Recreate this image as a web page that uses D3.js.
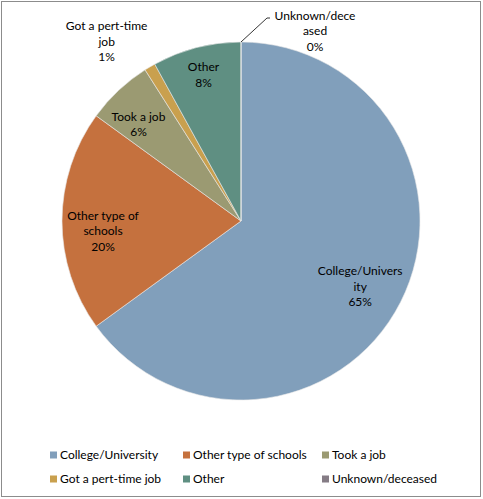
<!DOCTYPE html>
<html>
<head>
<meta charset="utf-8">
<script src="https://cdn.jsdelivr.net/npm/d3@7"></script>
<style>
  body { margin: 0; background: #fff; }
  text { font-family: Lato, "Liberation Sans", sans-serif; font-size: 12px; fill: #000; }
</style>
</head>
<body>
<div class="chart"></div>
<script>
// data
var categories = ["College/University", "Other type of schools", "Took a job", "Got a pert-time job", "Other", "Unknown/deceased"];
var shares = [65, 20, 6, 1, 8, 0];
var colors = ["#819FBB", "#C5713E", "#9B9A72", "#C9A04E", "#5F8F82", "#857C85"];
// labels as they wrap on the slices
var labelLines = [
  ["College/Univers", "ity", "65%"],
  ["Other type of", "schools", "20%"],
  ["Took a job", "6%"],
  ["Got a pert-time", "job", "1%"],
  ["Other", "8%"],
  ["Unknown/dece", "ased", "0%"]
];

var width = 483, height = 499;
var cx = 241, cy = 221, radius = 179;
var lineH = 15.5;

// label ring radius and nudge per slice [r, dx, dy]
var labelLayout = [[136, -2, 4], [138, 0, 10], [141, -6, 6], [205, -30, -3], [151, 0, 0], [190, 74, 0]];

var svg = d3.select(".chart").append("svg")
  .attr("width", width)
  .attr("height", height);

svg.append("rect")
  .attr("x", 1.5).attr("y", 1.5)
  .attr("width", width - 4).attr("height", height - 4)
  .attr("fill", "#fff")
  .attr("stroke", "#8c8c8c")
  .attr("stroke-width", 1);

var data = categories.map((c, i) => ({ name: c, value: shares[i], lines: labelLines[i], color: colors[i] }));

var pie = d3.pie().value(d => d.value).sort(null);
var arc = d3.arc().innerRadius(0).outerRadius(radius);
var arcs = pie(data);

var g = svg.append("g").attr("transform", `translate(${cx}, ${cy})`);

g.selectAll(".slice")
  .data(arcs)
  .enter().append("path")
  .attr("class", "slice")
  .attr("d", arc)
  .attr("fill", d => d.data.color)
  .attr("stroke", "#e8e8e8")
  .attr("stroke-width", 0.6);

function labelPos(d, i) {
  var mid = (d.startAngle + d.endAngle) / 2;
  var l = labelLayout[i];
  return [Math.sin(mid) * l[0] + l[1], -Math.cos(mid) * l[0] + l[2]];
}

var labels = g.selectAll(".lbl")
  .data(arcs)
  .enter().append("text")
  .attr("class", "lbl")
  .attr("text-anchor", "middle")
  .attr("transform", (d, i) => {
    var p = labelPos(d, i);
    return `translate(${p[0]}, ${p[1] - (d.data.lines.length - 1) * lineH / 2})`;
  });

labels.selectAll("tspan")
  .data(d => d.data.lines)
  .enter().append("tspan")
  .attr("x", 0)
  .attr("y", (t, j) => j * lineH)
  .attr("dy", "0.35em")
  .text(t => t);

// leader line for the zero slice
var za = arcs[5].startAngle;
var zp = [Math.sin(za) * radius, -Math.cos(za) * radius];
g.append("polyline")
  .attr("points", [[zp[0], zp[1]], [zp[0] + 26, zp[1] - 24], [zp[0] + 29, zp[1] - 24]].map(p => p.join(",")).join(" "))
  .attr("fill", "none")
  .attr("stroke", "#000")
  .attr("stroke-width", 0.8);

// legend: 3 columns, 2 rows
var legendX = [50, 183, 322], legendY = [455, 479];
var legend = svg.selectAll(".legend")
  .data(data)
  .enter().append("g")
  .attr("class", "legend")
  .attr("transform", (d, i) => `translate(${legendX[i % 3]}, ${legendY[Math.floor(i / 3)]})`);

legend.append("rect")
  .attr("x", 0).attr("y", -3.5)
  .attr("width", 7).attr("height", 7)
  .attr("fill", d => d.color);

legend.append("text")
  .attr("x", 10)
  .attr("dy", "0.35em")
  .text(d => d.name);
</script>
</body>
</html>
